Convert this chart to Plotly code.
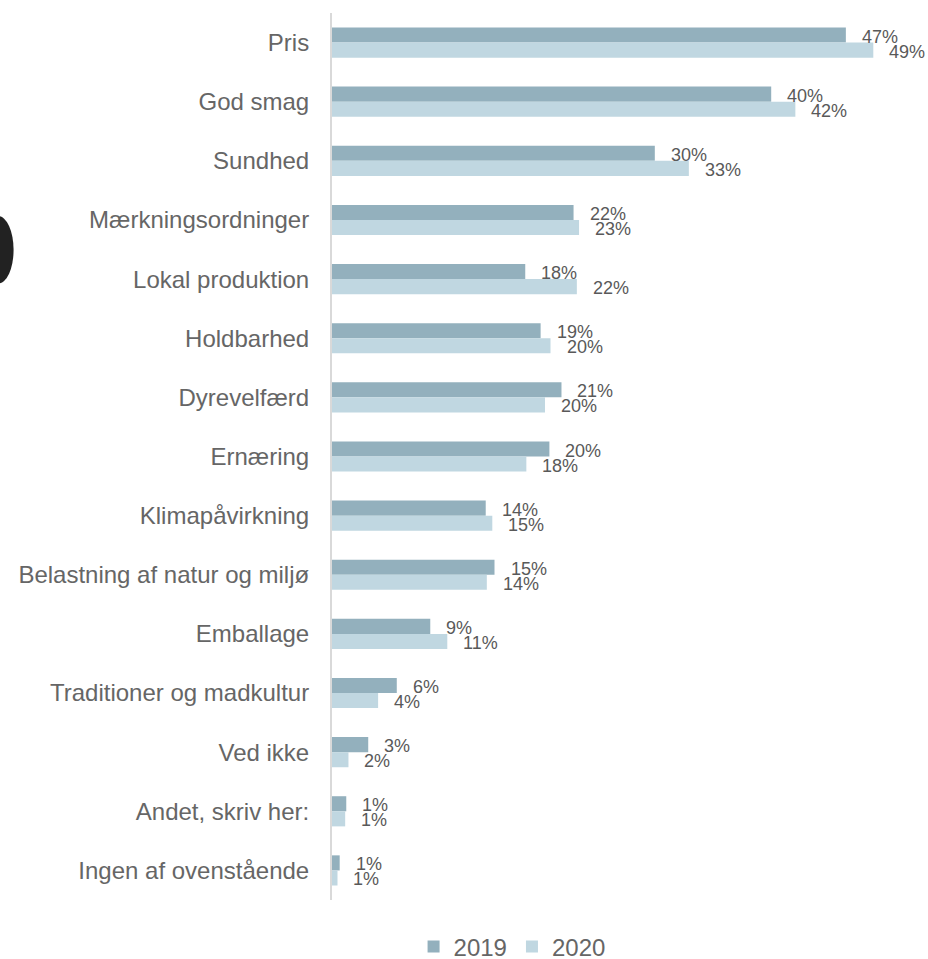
import plotly.graph_objects as go

categories = ["Pris", "God smag", "Sundhed", "Mærkningsordninger", "Lokal produktion",
              "Holdbarhed", "Dyrevelfærd", "Ernæring", "Klimapåvirkning",
              "Belastning af natur og miljø", "Emballage", "Traditioner og madkultur",
              "Ved ikke", "Andet, skriv her:", "Ingen af ovenstående"]

# bar lengths (%)
values_2019 = [46.8, 40.0, 29.4, 22.0, 17.6, 19.0, 20.9, 19.8, 14.0, 14.8, 8.95, 5.9, 3.3, 1.3, 0.7]
values_2020 = [49.3, 42.2, 32.5, 22.5, 22.3, 19.9, 19.4, 17.7, 14.6, 14.1, 10.5, 4.2, 1.5, 1.2, 0.5]

# printed data labels
labels_2019 = [47, 40, 30, 22, 18, 19, 21, 20, 14, 15, 9, 6, 3, 1, 1]
labels_2020 = [49, 42, 33, 23, 22, 20, 20, 18, 15, 14, 11, 4, 2, 1, 1]

col_2019 = "#93b0bd"
col_2020 = "#c0d7e1"
font = "Liberation Sans, Arial, sans-serif"

fig = go.Figure()
fig.add_bar(y=categories, x=values_2019, name="2019", orientation="h",
            marker_color=col_2019, marker_line_width=0)
fig.add_bar(y=categories, x=values_2020, name="2020", orientation="h",
            marker_color=col_2020, marker_line_width=0)

for cat, v, lab in zip(categories, values_2019, labels_2019):
    fig.add_annotation(x=v, y=cat, text=f"{lab}%", showarrow=False, xanchor="left",
                       xshift=14, yshift=6, font=dict(size=18, color="#595959", family=font))
for cat, v, lab in zip(categories, values_2020, labels_2020):
    fig.add_annotation(x=v, y=cat, text=f"{lab}%", showarrow=False, xanchor="left",
                       xshift=14, yshift=-9, font=dict(size=18, color="#595959", family=font))

# dark blob cut off at the left page edge
fig.add_shape(type="circle", xref="paper", yref="paper",
              x0=-0.636, x1=-0.58, y0=0.695, y1=0.771,
              fillcolor="#222222", line_width=0, layer="above")

fig.update_layout(
    width=928, height=959,
    margin=dict(l=332, r=47, t=13, b=59, autoexpand=False),
    barmode="group", bargap=0.49, bargroupgap=0,
    plot_bgcolor="white", paper_bgcolor="white",
    font=dict(family=font, color="#666666"),
    showlegend=True,
    legend=dict(orientation="h", x=0.328, xanchor="center", y=-0.053, yanchor="middle",
                font=dict(size=24, color="#666666"), traceorder="normal"),
)
fig.update_xaxes(range=[0, 50], showgrid=False, showticklabels=False, zeroline=False,
                 showline=False)
fig.update_yaxes(autorange="reversed", showgrid=False, showline=True, linecolor="#d9d9d9",
                 linewidth=2, ticks="", ticklabelstandoff=16, automargin=False,
                 tickfont=dict(size=24, color="#666666", family=font))

fig.write_html("out.html", config={"displayModeBar": False},
               post_script="document.body.style.margin='0';")
